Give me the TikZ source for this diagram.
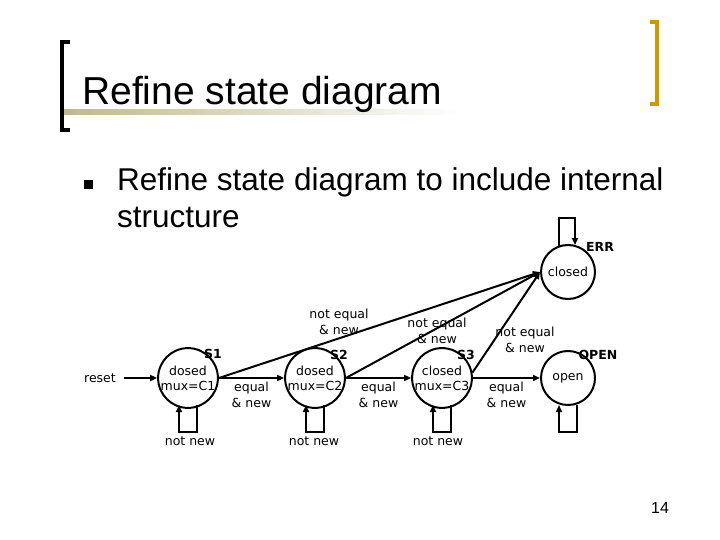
\documentclass[tikz,border=0pt]{standalone}
\usepackage{fontspec}
\setmainfont{Liberation Sans}
\newfontfamily\dfont{DejaVu Sans}
\usetikzlibrary{arrows.meta}
\definecolor{gold}{RGB}{204,153,0}
\definecolor{olive}{RGB}{190,185,140}
\begin{document}
\begin{tikzpicture}[x=1pt,y=-1pt,
  st/.style={draw,circle,line width=2pt,minimum size=54pt,inner sep=0pt,align=center,font=\dfont\fontsize{12.5}{15}\selectfont},
  lab/.style={align=center,font=\dfont\fontsize{12.5}{16}\selectfont,inner sep=0pt},
  slab/.style={font=\dfont\bfseries\fontsize{12.5}{13}\selectfont,inner sep=0pt},
  tr/.style={line width=2pt,-{Triangle[length=7pt,width=6pt]}}]
\useasboundingbox (0,0) rectangle (720,540);
% title decoration
\shade[left color=olive,right color=white] (62,110) rectangle (460,115);
\draw[line width=4pt] (70,42) -- (62,42) -- (62,130) -- (70,130);
\draw[gold,line width=4pt] (650,22) -- (657,22) -- (657,104) -- (650,104);
\node[anchor=base west,inner sep=0pt,font=\fontsize{39}{44}\selectfont] (title) at (82,105) {Refine state diagram};
\node[anchor=base west,inner sep=0pt] (bul) at (84,189) {\rule{9pt}{9pt}};
\node[anchor=base west,inner sep=0pt,font=\fontsize{31.5}{36}\selectfont] (txt) at (117,191) {Refine state diagram to include internal};
\node[anchor=base west,inner sep=0pt,font=\fontsize{31.5}{36}\selectfont] (txt2) at (117,227) {structure};
\node[anchor=base,inner sep=0pt,font=\fontsize{16}{16}\selectfont] (pg) at (660,513) {14};
% states
\node[st] (S1) at (188,378) {dosed\\mux=C1};
\node[st] (S2) at (315,378) {dosed\\mux=C2};
\node[st] (S3) at (442,378) {closed\\mux=C3};
\node[st] (OP) at (568,378) {open};
\node[st] (ER) at (568,272) {closed};
\node[slab] (l1) at (213,354) {S1};
\node[slab] (l2) at (339,355) {S2};
\node[slab] (l3) at (466,355) {S3};
\node[slab] (lo) at (598,355) {OPEN};
\node[slab] (le) at (600,247) {ERR};
\node[lab] (rs) at (100,378) {reset};
\coordinate (rin) at (124,378);
\draw[tr] (rin) -- (S1);
\draw[tr] (S1) -- node[lab,below=3pt] {equal\\\& new} (S2);
\draw[tr] (S2) -- node[lab,below=3pt] {equal\\\& new} (S3);
\draw[tr] (S3) -- node[lab,below=3pt] {equal\\\& new} (OP);
\coordinate (ein) at (540,272);
\draw[tr] (S1.east) -- (ein);
\draw[tr] (S2.east) -- (ein);
\draw[tr] (S3.10) -- (ein);
\node[lab] (n1) at (339,322) {not equal\\\& new};
\node[lab] (n2) at (437,331) {not equal\\\& new};
\node[lab] (n3) at (525,340) {not equal\\\& new};
% self loops
\foreach \x in {188,315,442,568}{
  \draw[tr] (\x+9,405) -- (\x+9,432) -- (\x-9,432) -- (\x-9,405);
}
\node[lab] (nn1) at (190,441) {not new};
\node[lab] (nn2) at (314,441) {not new};
\node[lab] (nn3) at (438,441) {not new};
\draw[tr] (559,246) -- (559,218) -- (575,218) -- (575,245);
\end{tikzpicture}
\end{document}
